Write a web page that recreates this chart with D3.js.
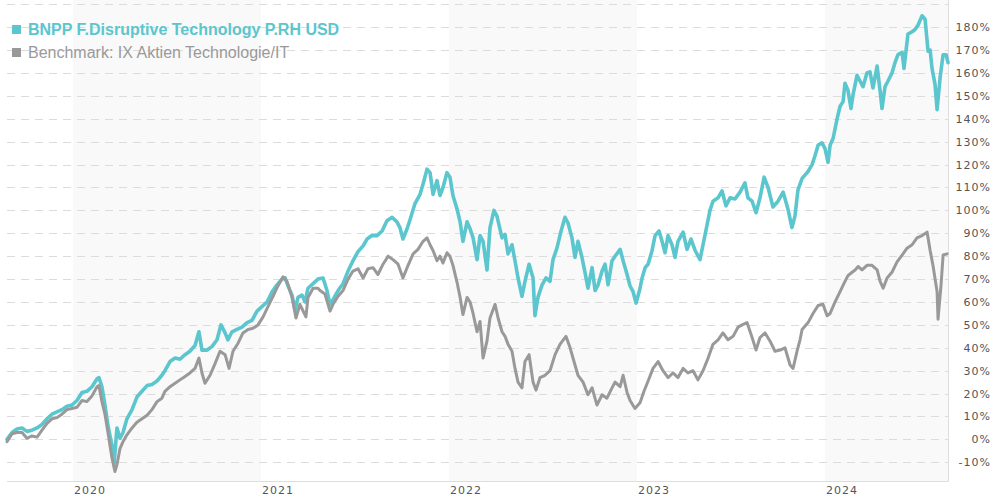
<!DOCTYPE html>
<html><head><meta charset="utf-8">
<script src="https://cdn.jsdelivr.net/npm/d3@7"></script>
<style>html,body{margin:0;padding:0;background:#fff;}svg{display:block;}</style>
</head><body>
<svg id="chart" width="990" height="500"></svg>
<script>
const seriesNames = ["BNPP F.Disruptive Technology P.RH USD", "Benchmark: IX Aktien Technologie/IT"];
const yearTicks = [2020, 2021, 2022, 2023, 2024];
const shadedYears = [2020, 2022, 2024];
const yTickValues = [-10,0,10,20,30,40,50,60,70,80,90,100,110,120,130,140,150,160,170,180];
const gridValues = [-10,0,10,20,30,40,50,60,70,80,90,100,110,120,130,140,150,160,170,180,190];

// decimal-year dates and % performance, fund
const fundDates = [2019.649,2019.676,2019.702,2019.729,2019.755,2019.782,2019.809,2019.835,2019.862,2019.888,2019.915,2019.941,2019.968,2019.995,2020.021,2020.048,2020.074,2020.101,2020.128,2020.138,2020.154,2020.170,2020.186,2020.207,2020.218,2020.234,2020.250,2020.266,2020.287,2020.314,2020.340,2020.367,2020.394,2020.420,2020.447,2020.473,2020.489,2020.516,2020.543,2020.569,2020.596,2020.622,2020.649,2020.670,2020.686,2020.713,2020.739,2020.766,2020.787,2020.809,2020.824,2020.846,2020.872,2020.899,2020.926,2020.952,2020.979,2021.005,2021.032,2021.059,2021.085,2021.112,2021.128,2021.144,2021.165,2021.181,2021.197,2021.218,2021.234,2021.250,2021.277,2021.303,2021.330,2021.351,2021.367,2021.383,2021.410,2021.436,2021.463,2021.489,2021.516,2021.543,2021.564,2021.590,2021.617,2021.644,2021.670,2021.697,2021.723,2021.739,2021.755,2021.777,2021.793,2021.819,2021.846,2021.862,2021.883,2021.899,2021.915,2021.936,2021.952,2021.968,2021.989,2022.005,2022.021,2022.043,2022.059,2022.074,2022.096,2022.112,2022.128,2022.149,2022.165,2022.181,2022.202,2022.218,2022.239,2022.255,2022.282,2022.298,2022.314,2022.335,2022.351,2022.367,2022.388,2022.404,2022.426,2022.447,2022.457,2022.473,2022.495,2022.516,2022.537,2022.553,2022.574,2022.596,2022.617,2022.633,2022.654,2022.670,2022.686,2022.707,2022.723,2022.739,2022.761,2022.777,2022.793,2022.814,2022.830,2022.846,2022.867,2022.883,2022.910,2022.926,2022.947,2022.963,2022.979,2022.995,2023.016,2023.027,2023.043,2023.059,2023.080,2023.096,2023.117,2023.133,2023.149,2023.165,2023.186,2023.202,2023.218,2023.245,2023.266,2023.287,2023.309,2023.335,2023.351,2023.372,2023.388,2023.404,2023.431,2023.452,2023.473,2023.495,2023.521,2023.548,2023.574,2023.590,2023.612,2023.633,2023.654,2023.676,2023.697,2023.723,2023.750,2023.777,2023.803,2023.824,2023.840,2023.856,2023.878,2023.894,2023.910,2023.931,2023.947,2023.963,2023.984,2024.000,2024.016,2024.027,2024.043,2024.064,2024.080,2024.096,2024.106,2024.122,2024.138,2024.149,2024.170,2024.186,2024.202,2024.223,2024.239,2024.255,2024.277,2024.293,2024.303,2024.319,2024.335,2024.356,2024.372,2024.388,2024.410,2024.420,2024.441,2024.463,2024.479,2024.495,2024.516,2024.532,2024.548,2024.559,2024.569,2024.585,2024.596,2024.612,2024.628,2024.644,2024.654];
const fundValues = [0,3,4.5,5,3.5,4,5,6.5,9,11,12,13,14.5,15,17,20.5,21,23,26.5,27,23,15,6,-2.5,-11,5,0.5,3,9,13,18.5,21,23.5,24,25.5,28,30,34,35.5,35,37,38.5,41,47,39,39,40.5,43.5,50,46.5,43.5,47,48,49,51,52,56,58,60,64.5,67.5,70,70.5,67,63,56.5,62,63,60,66,68,70,70.5,65,59,61,65,68,73.5,78,82,84.5,87.5,89,89,91,95.5,97,95,92.5,87.5,92,96,103,107,111.5,118,116.5,107,113,106.5,110,116.5,114.5,106.5,100.5,95,86.5,95,92,88,78.5,89,86.5,74,92.5,100,97.5,88,89.5,81,85,78,70.5,62.5,69,76.5,70.5,54,62,67.5,70.5,69,78.5,83.5,91,97,94.5,88,79.5,86.5,79.5,73,66,75,65,67.5,73.5,76.5,67.5,78,80,83,78,72,67,64.5,59.5,66,70.5,75,76.5,82.5,89,91,86.5,81.5,89,85,79.5,86.5,90.5,83,87.5,82.5,78.5,85,93.5,100,104,105.5,108.5,102,105.5,105,108,112,105.5,104,99,105.5,114.5,110,101.5,104,108,100.5,92.5,97.5,109,114,115.5,117,120,124,128.5,129.5,127,121,128.5,131.5,140,145.5,147.5,155.5,152.5,144.5,150.5,159,156.5,154,160,160.5,153.5,163,152,144.5,154,156.5,160,164.5,168,169,162,177,178,179,181,185,183.5,169.5,170,162,155,144,158,168,168,164.5];

// decimal-year dates and % performance, benchmark
const benchDates = [2019.649,2019.676,2019.702,2019.729,2019.755,2019.782,2019.809,2019.835,2019.862,2019.888,2019.915,2019.941,2019.968,2019.995,2020.021,2020.048,2020.074,2020.101,2020.128,2020.138,2020.154,2020.170,2020.186,2020.207,2020.223,2020.234,2020.250,2020.266,2020.287,2020.314,2020.340,2020.367,2020.394,2020.420,2020.447,2020.473,2020.489,2020.516,2020.543,2020.569,2020.596,2020.622,2020.649,2020.670,2020.686,2020.702,2020.729,2020.755,2020.782,2020.809,2020.830,2020.851,2020.878,2020.904,2020.931,2020.957,2020.984,2021.011,2021.037,2021.064,2021.090,2021.117,2021.138,2021.165,2021.186,2021.207,2021.239,2021.250,2021.277,2021.303,2021.314,2021.340,2021.367,2021.383,2021.410,2021.436,2021.463,2021.489,2021.516,2021.543,2021.569,2021.596,2021.622,2021.649,2021.676,2021.702,2021.729,2021.755,2021.782,2021.809,2021.835,2021.862,2021.883,2021.899,2021.915,2021.936,2021.952,2021.968,2021.989,2022.005,2022.021,2022.043,2022.059,2022.074,2022.096,2022.112,2022.128,2022.149,2022.165,2022.181,2022.202,2022.218,2022.245,2022.261,2022.282,2022.298,2022.314,2022.335,2022.351,2022.367,2022.388,2022.404,2022.426,2022.447,2022.463,2022.484,2022.511,2022.537,2022.564,2022.590,2022.622,2022.644,2022.670,2022.686,2022.713,2022.739,2022.761,2022.787,2022.814,2022.840,2022.867,2022.883,2022.910,2022.926,2022.947,2022.963,2022.989,2023.016,2023.037,2023.059,2023.085,2023.112,2023.138,2023.165,2023.191,2023.218,2023.245,2023.271,2023.298,2023.324,2023.351,2023.378,2023.404,2023.431,2023.457,2023.484,2023.511,2023.537,2023.559,2023.585,2023.612,2023.633,2023.654,2023.681,2023.707,2023.734,2023.761,2023.787,2023.814,2023.830,2023.851,2023.867,2023.878,2023.910,2023.936,2023.963,2023.989,2024.011,2024.027,2024.053,2024.080,2024.106,2024.122,2024.144,2024.160,2024.176,2024.197,2024.223,2024.250,2024.277,2024.293,2024.309,2024.330,2024.356,2024.383,2024.410,2024.436,2024.463,2024.489,2024.516,2024.543,2024.559,2024.574,2024.596,2024.601,2024.617,2024.628,2024.649];
const benchValues = [-1,2.5,3,3,0.5,1.5,1,4,7,9,9.5,11,13,13.5,14,17,16.5,19,23,23.5,16.5,11,3,-8,-14,-11,-4,-1,2,5,7.5,9,10.5,13,16.5,18,21,23,24.5,26,27.5,29,31,35.5,29,24.5,28,33,38.5,37,31,38.5,42,46.5,48,48.5,50,53.5,58,62.5,67,71,69,62,53,59,53.5,62,66,66,65,63.5,56,59,62.5,65,70,73.5,74.5,70.5,74.5,75,72,76.5,80,78.5,76.5,70.5,76,81,83,86.5,88,85,82.5,78,80,77,81.5,80,76,68.5,62,54.5,62,60,55,47,51.5,35.5,43,53,59,53,47,45,41.5,38.5,31,25,22.5,34,37,25,21.5,27,28,30,37,41.5,45,40,32.5,28,25,19.5,22.5,15,19.5,18,22.5,25,23,28,20.5,17,13.5,16,21,25.5,31,34,30,27,29,27,31,29,30,26,30,35.5,41.5,43.5,46.5,43.5,45,49,50,51,44.5,39,44.5,46.5,43,38.5,39,40,32.5,31,38.5,43.5,48,51,55,58.5,59,54,55,60,64.5,69,71.5,73,74,75.5,74,76,76,74,69,66,70.5,73,77.5,80.5,83.5,85,88,89,90.5,82.5,76,64.5,52.5,67.5,80.5,81];

const W = 990, H = 500;
const plot = {left: 7, right: 948, top: 0, bottom: 481};
const svg = d3.select("#chart");

const x = d3.scaleLinear().domain([2019.649, 2024.654]).range([plot.left, plot.right]);
const y = d3.scaleLinear().domain([-18.17, 191.88]).range([plot.bottom, plot.top]);

// shaded year bands
svg.append("g").selectAll("rect").data(shadedYears).join("rect")
  .attr("x", d => Math.max(plot.left, x(d)))
  .attr("y", plot.top)
  .attr("width", d => Math.min(plot.right, x(d + 1)) - Math.max(plot.left, x(d)))
  .attr("height", plot.bottom - plot.top)
  .attr("fill", "#f9f9f9");

// gridlines
svg.append("g").selectAll("line").data(gridValues).join("line")
  .attr("x1", plot.left).attr("x2", plot.right)
  .attr("y1", d => Math.round(y(d)) + 0.5).attr("y2", d => Math.round(y(d)) + 0.5)
  .attr("stroke", "#dcdcdc").attr("stroke-width", 1).attr("stroke-dasharray", "8,6");

// border lines (bottom and right)
svg.append("line").attr("x1", plot.left).attr("x2", plot.right + 0.5)
  .attr("y1", plot.bottom + 0.5).attr("y2", plot.bottom + 0.5).attr("stroke", "#dddddd");
svg.append("line").attr("x1", plot.right + 0.5).attr("x2", plot.right + 0.5)
  .attr("y1", plot.top).attr("y2", plot.bottom + 0.5).attr("stroke", "#dddddd");

// y axis labels (right)
svg.append("g").selectAll("text").data(yTickValues).join("text")
  .attr("x", 991).attr("y", d => y(d) + 4)
  .attr("text-anchor", "end")
  .attr("font-family", "DejaVu Sans, Verdana, sans-serif")
  .attr("font-size", 11).attr("letter-spacing", "1px")
  .attr("fill", "#555")
  .text(d => d + "%");

// x axis labels
svg.append("g").selectAll("text").data(yearTicks).join("text")
  .attr("x", d => x(d) + 1).attr("y", 494)
  .attr("text-anchor", "start")
  .attr("font-family", "DejaVu Sans, Verdana, sans-serif")
  .attr("font-size", 11).attr("letter-spacing", "1px")
  .attr("fill", "#555")
  .text(d => d);

const line = d3.line().x(d => x(d[0])).y(d => y(d[1]));
const fundData = fundDates.map((d, i) => [d, fundValues[i]]);
const benchData = benchDates.map((d, i) => [d, benchValues[i]]);

svg.append("path").datum(fundData).attr("d", line)
  .attr("fill", "none").attr("stroke", "#5bc6cd").attr("stroke-width", 3.6)
  .attr("stroke-linejoin", "round").attr("stroke-linecap", "round");
svg.append("path").datum(benchData).attr("d", line)
  .attr("fill", "none").attr("stroke", "#999999").attr("stroke-width", 3)
  .attr("stroke-linejoin", "round").attr("stroke-linecap", "round");

// legend
const legendColors = ["#5bc6cd", "#999999"];
const lg = svg.append("g");
seriesNames.forEach((name, i) => {
  lg.append("rect").attr("x", 12).attr("y", 25 + i * 23).attr("width", 9).attr("height", 9)
    .attr("fill", legendColors[i]);
  lg.append("text").attr("x", 28).attr("y", 35 + i * 23)
    .attr("font-family", "Liberation Sans, Arial, sans-serif")
    .attr("font-size", 16).attr("font-weight", i === 0 ? "bold" : "normal")
    .attr("fill", i === 0 ? "#5bc6cd" : "#9a9a9a")
    .text(name);
});
</script>
</body></html>
